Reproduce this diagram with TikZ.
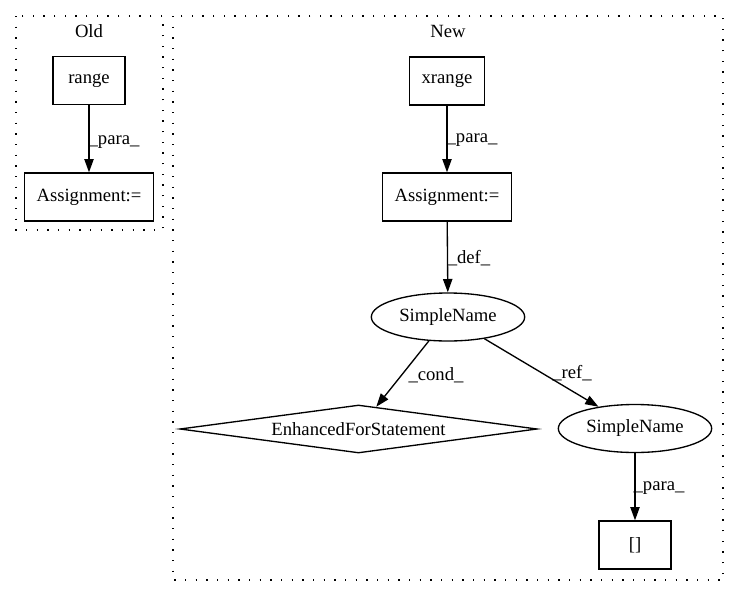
\documentclass[tikz,border=0pt]{standalone}
\usepackage{fontspec}
\setmainfont{Liberation Serif}
\usepackage{tikz}
\usetikzlibrary{shapes.geometric,arrows.meta}

\begin{document}
\begin{tikzpicture}[x=0.75pt,y=0.75pt,yscale=-1,xscale=1,
  every node/.style={font=\fontsize{14}{16}\selectfont},
  cluster/.style={draw, line width=1pt, dash pattern=on 1pt off 7pt},
  stmtbox/.style={draw, line width=1pt, rectangle, minimum width=54pt, minimum height=36pt, inner xsep=9pt},
  namenode/.style={draw, line width=1pt, ellipse, minimum width=115pt, minimum height=36pt, inner sep=1pt},
  loopnode/.style={draw, line width=1pt, diamond, aspect=7.4, minimum width=268pt, minimum height=36pt, inner sep=0pt},
  edge/.style={line width=1pt, -{Triangle[length=10pt,width=7pt]}},
  elabel/.style={inner sep=0.75pt}]
\useasboundingbox (0,0) rectangle (739,596);

%Clusters
\draw [cluster] (16,16) rectangle (163,230) ;
\draw [cluster] (173,16) rectangle (723,580) ;
% Text Node
\draw (89,31) node [elabel] (oldTitle) {Old};
% Text Node
\draw (448,31) node [elabel] (newTitle) {New};

%Old side
\draw (89,80.5) node [stmtbox] (rangeOld) {range};
\draw (89,197) node [stmtbox] (assignOld) {Assignment:=};

%New side
\draw (447,81) node [stmtbox] (xrangeNew) {xrange};
\draw (447,197) node [stmtbox] (assignNew) {Assignment:=};
\draw (448,317) node [namenode] (nameTop) {SimpleName};
\draw (358.5,429) node [loopnode] (forStmt) {EnhancedForStatement};
\draw (635,428.5) node [namenode] (nameRef) {SimpleName};
\draw (635,545) node [stmtbox] (arrAccess) {[]};

%Straight Lines
\draw [edge] (rangeOld) -- (assignOld) ;
\draw [edge] (xrangeNew) -- (assignNew) ;
\draw [edge] (assignNew) -- (nameTop) ;
\draw [edge] (nameTop) -- (forStmt) ;
\draw [edge] (nameTop) -- (nameRef) ;
\draw [edge] (nameRef) -- (arrAccess) ;

% Text Node
\draw (114,142) node [elabel] (lblParaOld) {\_para\_};
% Text Node
\draw (472,140) node [elabel] (lblParaNew) {\_para\_};
% Text Node
\draw (469,258) node [elabel] (lblDef) {\_def\_};
% Text Node
\draw (436,375) node [elabel] (lblCond) {\_cond\_};
% Text Node
\draw (572,373) node [elabel] (lblRef) {\_ref\_};
% Text Node
\draw (659,488) node [elabel] (lblParaArr) {\_para\_};

\end{tikzpicture}
\end{document}
